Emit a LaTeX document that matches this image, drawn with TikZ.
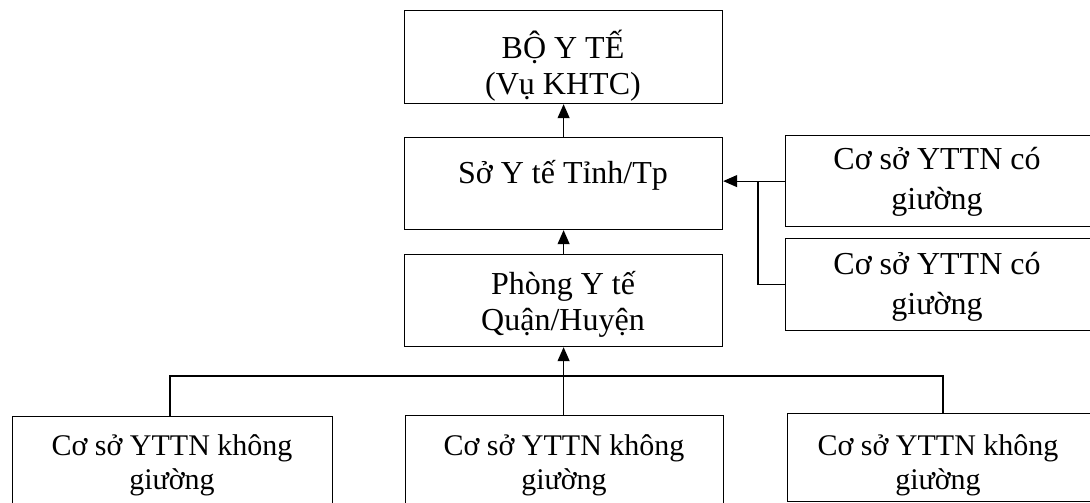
\documentclass[tikz,border=0pt]{standalone}
\usepackage{fontspec}
\setmainfont{Liberation Serif}
\usetikzlibrary{arrows.meta}
\begin{document}
\begin{tikzpicture}[x=1pt,y=-1pt,
  box/.style={draw,line width=1.2pt,inner sep=0pt,anchor=north west},
  txt/.style={align=center,inner sep=0pt,font=\fontsize{32pt}{36pt}\selectfont},
  rtxt/.style={align=center,inner sep=0pt,font=\fontsize{32pt}{40pt}\selectfont},
  btxt/.style={align=center,inner sep=0pt,font=\fontsize{30pt}{34pt}\selectfont},
  conn/.style={line width=1.2pt},
  arr/.style={conn,-{Triangle[length=14pt,width=12pt]}}]
\useasboundingbox (0,0) rectangle (1090,503);
\clip (0,0) rectangle (1090,503);
% boxes
\node[box,minimum width=318pt,minimum height=93pt] (b1) at (404,10) {};
\node[box,minimum width=318pt,minimum height=92pt] (b2) at (404,137) {};
\node[box,minimum width=318pt,minimum height=92pt] (b3) at (404,254) {};
\node[box,minimum width=312pt,minimum height=91pt] (r1) at (785,135) {};
\node[box,minimum width=312pt,minimum height=92pt] (r2) at (785,238) {};
\node[box,minimum width=320pt,minimum height=110pt] (bA) at (12,416) {};
\node[box,minimum width=318pt,minimum height=110pt] (bB) at (405,415) {};
\node[box,minimum width=310pt,minimum height=88pt] (bC) at (787,413) {};
% texts
\node[txt] (t1) at (563,66) {BỘ Y TẾ\\(Vụ KHTC)};
\node[txt] (t2) at (563,175) {Sở Y tế Tỉnh/Tp};
\node[txt] (t3) at (563,304) {Phòng Y tế\\Quận/Huyện};
\node[rtxt] (t4) at (937,182) {Cơ sở YTTN có\\giường};
\node[rtxt] (t5) at (937,287) {Cơ sở YTTN có\\giường};
\node[btxt] (tA) at (172,465) {Cơ sở YTTN không\\giường};
\node[btxt] (tB) at (564,465) {Cơ sở YTTN không\\giường};
\node[btxt] (tC) at (938,465) {Cơ sở YTTN không\\giường};
% connectors
\draw[arr] (b2.north) -- (b1.south);
\draw[arr] (b3.north) -- (b2.south);
\draw[arr] (r1.west) -- (r1.west -| b2.east);
\coordinate (jr) at (758,180.5);
\draw[conn] (r2.west) -| (jr);
\draw[arr] (bB.north -| b3.south) -- (b3.south);
\coordinate (busL) at (170,376);
\coordinate (busR) at (943,376);
\draw[conn] (busL |- bA.north) -- (busL) -- (busR) -- (busR |- bC.north);
\end{tikzpicture}
\end{document}
